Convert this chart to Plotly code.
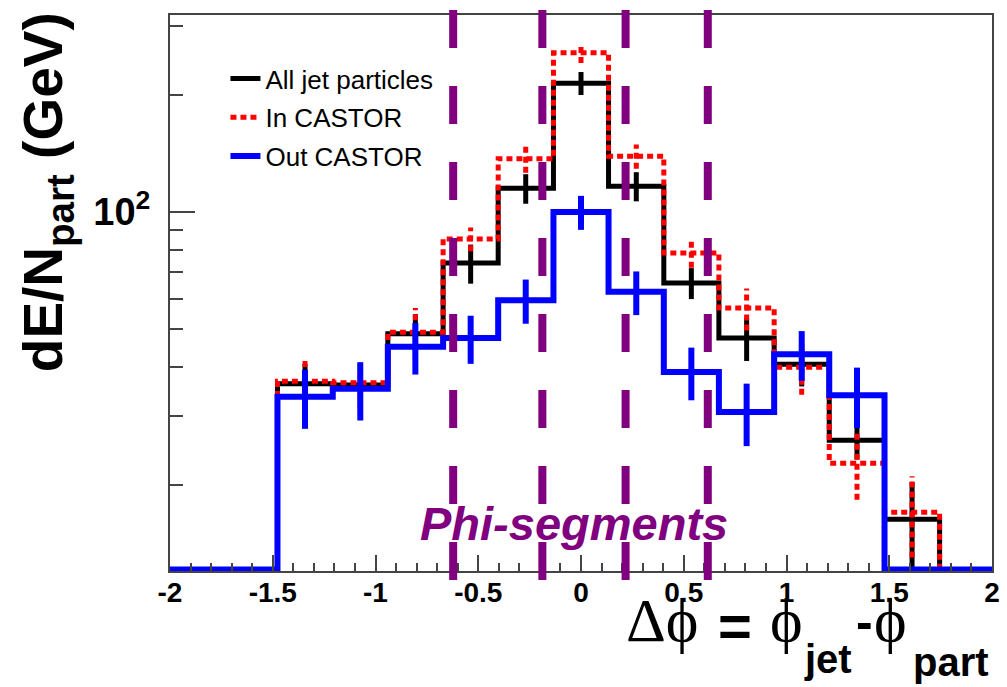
import plotly.graph_objects as go

# ---------------- data ----------------
bin_edges = [-1.477, -1.208, -0.940, -0.671, -0.403, -0.134, 0.134, 0.403, 0.671, 0.940, 1.208, 1.477, 1.745]
bin_centers = [-1.343, -1.074, -0.806, -0.537, -0.269, 0.0, 0.269, 0.537, 0.806, 1.074, 1.343, 1.611]

all_jet = [36.3, 36.0, 48.7, 74.0, 115.0, 214.0, 116.5, 65.8, 47.5, 40.7, 26.0, 16.3]
all_jet_err = [4.5, 4.5, 6.0, 8.5, 10.0, 14.5, 10.0, 6.0, 6.0, 5.0, 2.8, 4.0]
in_castor = [36.8, 36.5, 49.2, 85.3, 137.0, 256.0, 139.0, 78.5, 56.7, 40.0, 22.7, 17.0]
in_castor_err = [5.2, 5.3, 7.5, 6.0, 11.0, 15.0, 10.0, 6.5, 7.0, 6.0, 4.4, 4.0]
out_castor = [33.6, 35.2, 45.1, 47.5, 59.4, 100.0, 62.4, 38.9, 30.7, 43.2, 33.9, 0.0]
out_castor_err = [5.8, 6.0, 6.8, 6.7, 7.7, 10.0, 8.0, 6.0, 5.6, 6.3, 6.0, 0.0]

segment_bounds = [-0.622, -0.188, 0.217, 0.617]
x_range = [-2, 2]
y_range_log = [1.0795, 2.5051]
x_major_ticks = [-2, -1.5, -1, -0.5, 0, 0.5, 1, 1.5, 2]
x_tick_text = ["-2", "-1.5", "-1", "-0.5", "0", "0.5", "1", "1.5", "2"]
y_major_ticks = [100]
y_tick_text = ["10<sup>2</sup>"]
y_minor_ticks = [20, 30, 40, 50, 60, 70, 80, 90, 200, 300]

# ---------------- layout geometry ----------------
W, H = 1007, 687
ML, MR, MT, MB = 170, 7, 15, 116
PW, PH = W - ML - MR, H - MT - MB


def px_x(px):
    return (px - ML) / PW


def px_y(py):
    return (H - MB - py) / PH


floor = 10 ** (y_range_log[0] + 0.004)

fig = go.Figure()


def add_hist(vals, errs, name, color, width, dash):
    xs = [x_range[0]] + bin_edges + [x_range[1]]
    ys = [floor] + [v if v > 0 else floor for v in vals] + [floor, floor]
    fig.add_trace(go.Scatter(
        x=xs, y=ys, mode="lines", name=name, legendgroup=name,
        line=dict(color=color, width=width, dash=dash, shape="hv"),
        hoverinfo="skip",
    ))
    ex, ey = [], []
    for c, v, e in zip(bin_centers, vals, errs):
        if v > 0 and e > 0:
            ex += [c, c, None]
            ey += [v - e, v + e, None]
    fig.add_trace(go.Scatter(
        x=ex, y=ey, mode="lines", showlegend=False, legendgroup=name,
        line=dict(color=color, width=width, dash=dash),
        hoverinfo="skip",
    ))


add_hist(all_jet, all_jet_err, "All jet particles", "black", 5, "solid")
add_hist(in_castor, in_castor_err, "In CASTOR", "#ff0000", 5, "6px,4px")
add_hist(out_castor, out_castor_err, "Out CASTOR", "#0000ff", 6, "solid")

# phi-segment dashed lines
for xb in segment_bounds:
    fig.add_shape(type="line", xref="x", yref="paper",
                  x0=xb, x1=xb, y0=px_y(10), y1=px_y(588),
                  line=dict(color="#800080", width=8, dash="38px,38px"),
                  layer="above")

ann = []
ann.append(dict(text="<i><b>Phi-segments</b></i>", x=px_x(578), y=px_y(523),
                font=dict(family="Liberation Sans", size=47, color="#800080")))
ann.append(dict(text="<b>dE/N<sub>part</sub> (GeV)</b>", x=px_x(46), y=px_y(192), textangle=-90,
                font=dict(family="Liberation Sans", size=55, color="black")))
# x-axis title pieces
ann.append(dict(text="Δϕ", x=px_x(667), y=px_y(620),
                font=dict(family="Liberation Serif", size=62, color="black")))
ann.append(dict(text="<b>=</b>", x=px_x(740), y=px_y(625),
                font=dict(family="Liberation Sans", size=58, color="black")))
ann.append(dict(text="ϕ", x=px_x(792), y=px_y(620),
                font=dict(family="Liberation Serif", size=62, color="black")))
ann.append(dict(text="<b>jet</b>", x=px_x(834), y=px_y(659),
                font=dict(family="Liberation Sans", size=40, color="black")))
ann.append(dict(text="<b>-</b>", x=px_x(871), y=px_y(622),
                font=dict(family="Liberation Sans", size=50, color="black")))
ann.append(dict(text="ϕ", x=px_x(898), y=px_y(620),
                font=dict(family="Liberation Serif", size=62, color="black")))
ann.append(dict(text="<b>part</b>", x=px_x(959), y=px_y(662),
                font=dict(family="Liberation Sans", size=40, color="black")))
for a in ann:
    a.update(xref="paper", yref="paper", showarrow=False, xanchor="center", yanchor="middle")

axis_col = "#444444"
fig.update_layout(
    width=W, height=H, autosize=False,
    margin=dict(l=ML, r=MR, t=MT, b=MB, pad=0),
    paper_bgcolor="white", plot_bgcolor="white",
    annotations=ann,
    showlegend=True,
    legend=dict(x=px_x(226), y=px_y(55), xanchor="left", yanchor="top",
                bgcolor="rgba(0,0,0,0)", borderwidth=0, tracegroupgap=2,
                font=dict(family="Liberation Sans", size=26, color="black")),
    xaxis=dict(range=x_range, showgrid=False, zeroline=False,
               tickmode="array", tickvals=x_major_ticks, ticktext=x_tick_text,
               ticks="inside", ticklen=16, tickwidth=1.5, tickcolor=axis_col,
               minor=dict(dtick=0.1, tick0=0, ticks="inside", ticklen=8, tickwidth=1.5, tickcolor=axis_col),
               showline=True, linecolor=axis_col, linewidth=2, mirror=True,
               ticklabelstandoff=-5,
               tickfont=dict(family="Liberation Sans", size=28, color="black", weight="bold")),
    yaxis=dict(type="log", range=y_range_log, showgrid=False, zeroline=False,
               tickmode="array", tickvals=y_major_ticks, ticktext=y_tick_text,
               ticks="inside", ticklen=25, tickwidth=1.5, tickcolor=axis_col,
               minor=dict(tickmode="array", tickvals=y_minor_ticks, ticks="inside", ticklen=13,
                          tickwidth=1.5, tickcolor=axis_col),
               showline=True, linecolor=axis_col, linewidth=2, mirror=True,
               ticklabelstandoff=10,
               tickfont=dict(family="Liberation Sans", size=38, color="black", weight="bold")),
)

fig.write_html("out.html")
